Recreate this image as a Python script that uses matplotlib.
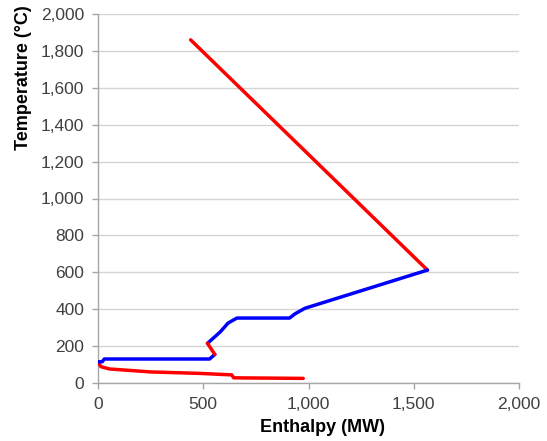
"""Composite curves: temperature vs enthalpy."""

import matplotlib
matplotlib.use("Agg")
import matplotlib.pyplot as plt
from matplotlib.ticker import FuncFormatter, MultipleLocator

# hot stream, upper section
hot_top_h = [440, 1565]
hot_top_t = [1860, 612]

# hot stream, lower section
hot_low_h = [0, 15, 55, 250, 485, 635, 645, 975]
hot_low_t = [110, 88, 76, 60, 52, 44, 28, 25]

# cold stream, first section
cold_a_h = [0, 20, 30, 530, 555]
cold_a_t = [115, 115, 130, 130, 155]

# short hot connector
hot_mid_h = [555, 520]
hot_mid_t = [155, 215]

# cold stream, second section
cold_b_h = [520, 580, 618, 660, 910, 936, 983, 1565]
cold_b_t = [215, 276, 325, 352, 352, 375, 405, 612]

RED = "#ff0000"
BLUE = "#0000ff"
LW = 2.5


def main() -> None:
    plt.rcParams["font.family"] = ["Liberation Sans", "DejaVu Sans"]
    fig = plt.figure(figsize=(5.47, 4.41), dpi=100)
    ax = fig.add_axes([98 / 547, 58 / 441, 421 / 547, 369 / 441])

    ax.plot(hot_top_h, hot_top_t, color=RED, lw=LW, solid_capstyle="round", zorder=3)
    ax.plot(hot_low_h, hot_low_t, color=RED, lw=LW, solid_capstyle="round", zorder=3)
    ax.plot(cold_a_h, cold_a_t, color=BLUE, lw=LW, solid_capstyle="round", zorder=3)
    ax.plot(cold_b_h, cold_b_t, color=BLUE, lw=LW, solid_capstyle="round", zorder=3)
    ax.plot(hot_mid_h, hot_mid_t, color=RED, lw=LW, solid_capstyle="round", zorder=4)

    ax.set_xlim(0, 2000)
    ax.set_ylim(0, 2000)
    ax.xaxis.set_major_locator(MultipleLocator(500))
    ax.yaxis.set_major_locator(MultipleLocator(200))
    fmt = FuncFormatter(lambda v, _: f"{v:,.0f}")
    ax.xaxis.set_major_formatter(fmt)
    ax.yaxis.set_major_formatter(fmt)

    ax.grid(True, axis="y", color="#d4d4d4", lw=1.0)
    ax.set_axisbelow(True)
    for side in ("top", "right"):
        ax.spines[side].set_visible(False)
    for side in ("left", "bottom"):
        ax.spines[side].set_color("#a6a6a6")
        ax.spines[side].set_linewidth(1.0)
    ax.tick_params(colors="#a6a6a6", labelcolor="#404040", labelsize=12.5,
                   length=4, width=1.0, pad=6)

    fig.text(322 / 547, 1 - 428 / 441, "Enthalpy (MW)", ha="center", va="center",
             fontsize=13, fontweight="bold")
    fig.text(24 / 547, 1 - 78 / 441, "Temperature (\u00b0C)", ha="center", va="center",
             rotation=90, fontsize=13, fontweight="bold")

    fig.savefig("out.png", dpi=100)


if __name__ == "__main__":
    main()
